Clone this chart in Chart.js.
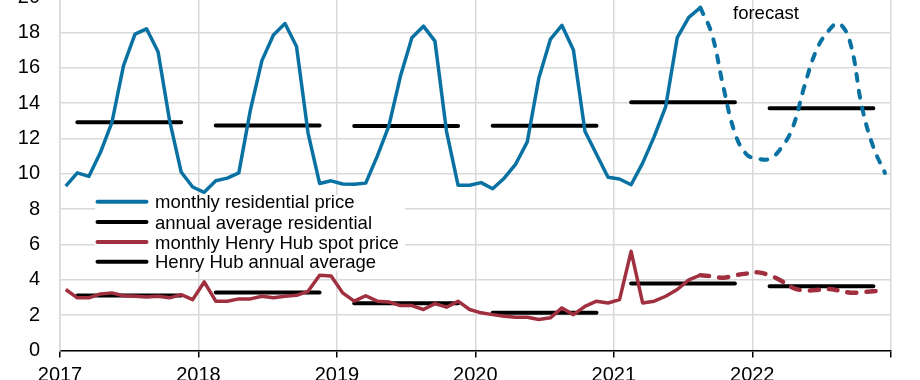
<!DOCTYPE html>
<html>
<head>
<meta charset="utf-8">
<script src="https://cdn.jsdelivr.net/npm/chart.js@4.4.1/dist/chart.umd.min.js"></script>
<style>
  html, body { margin: 0; padding: 0; background: #ffffff; overflow: hidden; }
  #wrap { position: absolute; left: 0; top: -10px; width: 920px; height: 390px; }
</style>
</head>
<body>
<div id="wrap"><canvas id="c"></canvas></div>
<script>
// ---- data ----
const years = [2017, 2018, 2019, 2020, 2021, 2022];
const xTickLabels = ['2017', '2018', '2019', '2020', '2021', '2022'];
// monthly residential price, Jan 2017 .. Aug 2021 (actual)
const residentialActual = [
  9.3, 10.05, 9.85, 11.2, 12.9, 16.1, 17.9, 18.2, 16.9, 13.0, 10.1, 9.25,
  8.95, 9.6, 9.75, 10.05, 13.6, 16.4, 17.85, 18.5, 17.2, 12.3, 9.45, 9.6,
  9.42, 9.4, 9.47, 11.0, 12.7, 15.5, 17.7, 18.35, 17.5, 12.4, 9.35, 9.35,
  9.5, 9.15, 9.75, 10.55, 11.8, 15.4, 17.6, 18.4, 17.0, 12.4, 11.1, 9.8,
  9.7, 9.38, 10.6, 12.1, 13.8, 17.7, 18.85, 19.4
];
// forecast, Aug 2021 .. Dec 2022
const residentialForecast = [
  19.4, 17.9, 14.9, 12.3, 11.1,
  10.85, 10.85, 11.45, 12.6, 14.9, 16.9, 18.0, 18.5, 17.4, 13.8, 11.5, 10.05
];
// monthly Henry Hub spot price, Jan 2017 .. Aug 2021 (actual)
const henryHubActual = [
  3.45, 2.98, 2.98, 3.2, 3.26, 3.1, 3.07, 3.03, 3.07, 2.98, 3.16, 2.88,
  3.88, 2.79, 2.79, 2.92, 2.92, 3.07, 2.98, 3.07, 3.12, 3.35, 4.26, 4.22,
  3.26, 2.79, 3.1, 2.79, 2.75, 2.54, 2.54, 2.32, 2.65, 2.45, 2.79, 2.32,
  2.13, 2.03, 1.94, 1.88, 1.88, 1.75, 1.85, 2.41, 2.03, 2.5, 2.79, 2.69,
  2.88, 5.61, 2.69, 2.79, 3.07, 3.45, 4.0, 4.26
];
// forecast, Aug 2021 .. Dec 2022
const henryHubForecast = [
  4.26, 4.2, 4.12, 4.25, 4.35,
  4.42, 4.25, 3.95, 3.55, 3.4, 3.42, 3.48, 3.4, 3.27, 3.3, 3.35, 3.4
];
const residentialAnnual = [12.92, 12.73, 12.7, 12.71, 14.05, 13.71];
const henryHubAnnual = [3.11, 3.28, 2.67, 2.13, 3.79, 3.63];

const legendLabels = [
  'monthly residential price',
  'annual average residential',
  'monthly Henry Hub spot price',
  'Henry Hub annual average'
];
const forecastLabel = 'forecast';

// ---- build library data from the arrays ----
const START = years[0];
const monthX = i => START + (i + 0.5) / 12;
const forecastStart = residentialActual.length - 1;
const toPts = (arr, offset) => arr.map((v, i) => ({ x: monthX(i + offset), y: v }));
const annualPts = avgs => {
  const pts = [];
  avgs.forEach((v, k) => {
    pts.push({ x: years[k] + 1.5 / 12, y: v });
    pts.push({ x: years[k] + 10.5 / 12, y: v });
    pts.push({ x: years[k] + 11.5 / 12, y: null });
  });
  return pts;
};

const BLUE = '#0a72a2';
const RED = '#a0303f';
const FONT = '"Liberation Sans", Arial, sans-serif';

const overlay = {
  id: 'overlay',
  beforeDatasetsDraw(chart) {
    const ctx = chart.ctx;
    ctx.save();
    ctx.fillStyle = '#ffffff';
    ctx.fillRect(95, 205, 310, 76);
    ctx.restore();
  },
  afterDraw(chart) {
    const ctx = chart.ctx;
    ctx.save();
    const colors = [BLUE, '#000000', RED, '#000000'];
    const rowsY = [211.7, 232, 252, 271.7];
    ctx.font = '18.5px ' + FONT;
    ctx.textBaseline = 'alphabetic';
    ctx.textAlign = 'left';
    legendLabels.forEach((t, i) => {
      ctx.strokeStyle = colors[i];
      ctx.lineWidth = 4;
      ctx.lineCap = 'round';
      ctx.beginPath();
      ctx.moveTo(97.5, rowsY[i]);
      ctx.lineTo(146.5, rowsY[i]);
      ctx.stroke();
      ctx.fillStyle = '#000000';
      ctx.fillText(t, 155, rowsY[i] + 6.6);
    });
    ctx.fillText(forecastLabel, 733, 29);
    ctx.restore();
  }
};

new Chart(document.getElementById('c'), {
  type: 'line',
  data: {
    datasets: [
      { data: toPts(residentialActual, 0), borderColor: BLUE, borderWidth: 3.5, tension: 0, pointRadius: 0, borderJoinStyle: 'round' },
      { data: toPts(residentialForecast, forecastStart), borderColor: BLUE, borderWidth: 4, tension: 0.4, pointRadius: 0, borderDash: [7, 10], borderCapStyle: 'round' },
      { data: annualPts(residentialAnnual), borderColor: '#000000', borderWidth: 4, pointRadius: 0, borderCapStyle: 'round', spanGaps: false },
      { data: toPts(henryHubActual, 0), borderColor: RED, borderWidth: 3.5, tension: 0, pointRadius: 0, borderJoinStyle: 'round' },
      { data: toPts(henryHubForecast, forecastStart), borderColor: RED, borderWidth: 4.5, tension: 0.4, pointRadius: 0, borderDash: [9, 10], borderCapStyle: 'round' },
      { data: annualPts(henryHubAnnual), borderColor: '#000000', borderWidth: 4, pointRadius: 0, borderCapStyle: 'round', spanGaps: false }
    ]
  },
  options: {
    responsive: true,
    maintainAspectRatio: false,
    devicePixelRatio: 1,
    animation: false,
    layout: { padding: { left: 0, top: 7, right: 29.3, bottom: 0 } },
    plugins: { legend: { display: false }, tooltip: { enabled: false } },
    scales: {
      x: {
        type: 'linear',
        min: 2017,
        max: 2023,
        afterFit: s => { s.height = 29.5; s.paddingLeft = 0; s.paddingRight = 0; },
        ticks: {
          stepSize: 1,
          autoSkip: false,
          maxRotation: 0,
          padding: 6,
          color: '#000000',
          font: { family: FONT, size: 20 },
          callback: v => xTickLabels[v - START] ?? ''
        },
        grid: { color: '#d9d9d9', lineWidth: 1.5, tickColor: '#000000', tickLength: 7, drawTicks: true },
        border: { display: true, color: '#000000', width: 1.5 }
      },
      y: {
        min: 0,
        max: 20,
        afterFit: s => { s.width = 60; s.paddingTop = 0; s.paddingBottom = 0; },
        ticks: {
          stepSize: 2,
          padding: 20,
          color: '#000000',
          font: { family: FONT, size: 20 }
        },
        grid: { color: '#d9d9d9', lineWidth: 1.5, drawTicks: false },
        border: { display: true, color: '#d9d9d9', width: 1.5 }
      }
    }
  },
  plugins: [overlay]
});
</script>
</body>
</html>
